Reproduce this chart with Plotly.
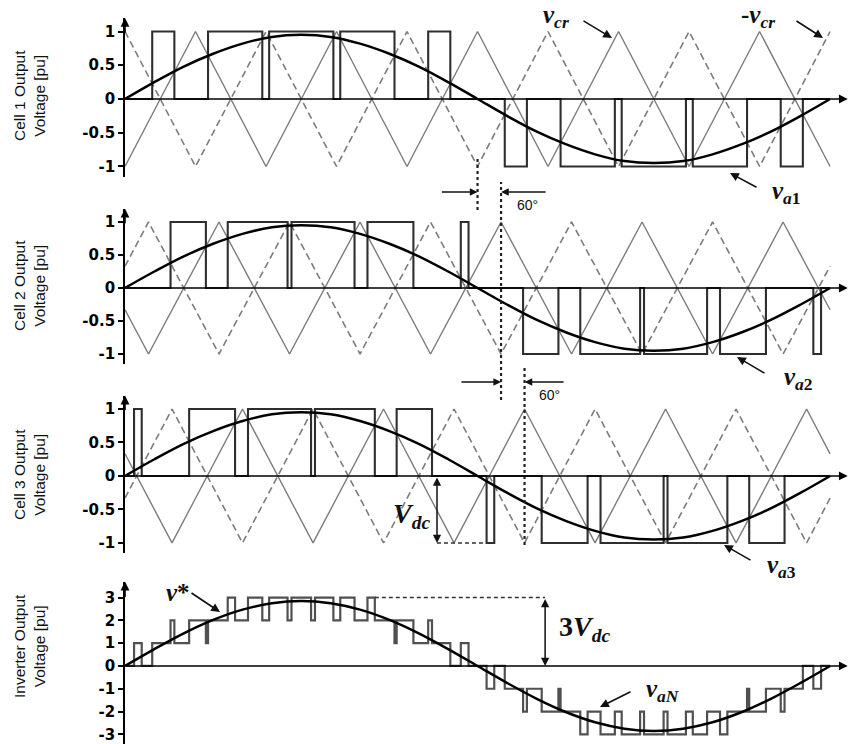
import plotly.graph_objects as go

W, H = 853, 744

# ---------------- data (angles in degrees) ----------------
ref_angle = [0, 15, 30, 45, 60, 75, 90, 105, 120, 135, 150, 165, 180,
             195, 210, 225, 240, 255, 270, 285, 300, 315, 330, 345, 360]
ref_cell = [0, 0.25, 0.48, 0.67, 0.82, 0.92, 0.95, 0.92, 0.82, 0.67, 0.48, 0.25, 0,
            -0.25, -0.48, -0.67, -0.82, -0.92, -0.95, -0.92, -0.82, -0.67, -0.48, -0.25, 0]
ref_inv = [0, 0.74, 1.43, 2.02, 2.47, 2.75, 2.85, 2.75, 2.47, 2.02, 1.43, 0.74, 0,
           -0.74, -1.43, -2.02, -2.47, -2.75, -2.85, -2.75, -2.47, -2.02, -1.43, -0.74, 0]

carrier1_t = [0, 36, 72, 108, 144, 180, 216, 252, 288, 324, 360]
carrier1_v = [-1, 1, -1, 1, -1, 1, -1, 1, -1, 1, -1]
carrier2_t = [0, 12, 48, 84, 120, 156, 192, 228, 264, 300, 336, 360]
carrier2_v = [-0.33, -1, 1, -1, 1, -1, 1, -1, 1, -1, 1, -0.33]
carrier3_t = [0, 24, 60, 96, 132, 168, 204, 240, 276, 312, 348, 360]
carrier3_v = [0.33, -1, 1, -1, 1, -1, 1, -1, 1, -1, 1, 0.33]

# switching instants (on, off, on, off, ...) of the +1 and -1 pulses
cell1_pos = [13.9, 25.2, 42.4, 70.1, 73.6, 106.4, 109.9, 137.6, 154.8, 166.1]
cell1_neg = [193.9, 205.2, 222.4, 250.1, 253.6, 286.4, 289.9, 317.6, 334.8, 346.1]
cell2_pos = [23.25, 41.3, 52.45, 83.0, 85.0, 117.2, 123.8, 147.25, 171.45, 175.4]
cell2_neg = [203.25, 221.3, 232.45, 263.0, 265.0, 297.2, 303.8, 327.25, 351.45, 355.4]
cell3_pos = [4.62, 8.53, 32.75, 56.2, 62.8, 95.0, 97.0, 127.55, 138.7, 156.75]
cell3_neg = [184.62, 188.53, 212.75, 236.2, 242.8, 275.0, 277.0, 307.55, 318.7, 336.75]

cell_ticks = [1, 0.5, 0, -0.5, -1]
cell_ticktext = ["1", "0.5", "0", "-0.5", "-1"]
inv_ticks = [3, 2, 1, 0, -1, -2, -3]
inv_ticktext = ["3", "2", "1", "0", "-1", "-2", "-3"]

cells = [
    ("Cell 1 Output", carrier1_t, carrier1_v, cell1_pos, cell1_neg),
    ("Cell 2 Output", carrier2_t, carrier2_v, cell2_pos, cell2_neg),
    ("Cell 3 Output", carrier3_t, carrier3_v, cell3_pos, cell3_neg),
]


def pulse_xy(pos, neg):
    xs, ys = [0], [0]
    for i, e in enumerate(pos):
        xs.append(e); ys.append(1 if i % 2 == 0 else 0)
    for i, e in enumerate(neg):
        xs.append(e); ys.append(-1 if i % 2 == 0 else 0)
    xs.append(360); ys.append(0)
    return xs, ys


def level(pos, neg, t):
    for a, b in zip(pos[0::2], pos[1::2]):
        if a <= t < b:
            return 1
    for a, b in zip(neg[0::2], neg[1::2]):
        if a <= t < b:
            return -1
    return 0


fig = go.Figure()
PULSE = "#2e2e2e"
CARR = "#7c7c7c"

for k, (name, ct, cv, pos, neg) in enumerate(cells, start=1):
    xa, ya = ("x", "y") if k == 1 else (f"x{k}", f"y{k}")
    fig.add_trace(go.Scatter(x=ct, y=[-v for v in cv], mode="lines", xaxis=xa, yaxis=ya,
                             line=dict(color=CARR, width=1.6, dash="7px,4px")))
    fig.add_trace(go.Scatter(x=ct, y=cv, mode="lines", xaxis=xa, yaxis=ya,
                             line=dict(color=CARR, width=1.4)))
    px_, py_ = pulse_xy(pos, neg)
    fig.add_trace(go.Scatter(x=px_, y=py_, mode="lines", xaxis=xa, yaxis=ya,
                             line=dict(color=PULSE, width=2.1, shape="hv")))
    fig.add_trace(go.Scatter(x=ref_angle, y=ref_cell, mode="lines", xaxis=xa, yaxis=ya,
                             line=dict(color="black", width=2.5, shape="spline", smoothing=1)))

# inverter output = sum of the three cells
edges = sorted(set([0, 360] + cell1_pos + cell1_neg + cell2_pos + cell2_neg + cell3_pos + cell3_neg))
inv_x, inv_y = [], []
for a, b in zip(edges[:-1], edges[1:]):
    m = 0.5 * (a + b)
    inv_x.append(a)
    inv_y.append(sum(level(c[3], c[4], m) for c in cells))
inv_x.append(360); inv_y.append(0)
fig.add_trace(go.Scatter(x=inv_x, y=inv_y, mode="lines", xaxis="x4", yaxis="y4",
                         line=dict(color="#505050", width=2.2, shape="hv")))
fig.add_trace(go.Scatter(x=ref_angle, y=ref_inv, mode="lines", xaxis="x4", yaxis="y4",
                         line=dict(color="black", width=2.5, shape="spline", smoothing=1)))

# ---------------- layout ----------------
XMAX = 371.7
xdom = [125 / W, 1.0]


def pdom(top_px, bot_px):
    return [1 - bot_px / H, 1 - top_px / H]


doms = [pdom(18, 176.6), pdom(208.8, 363.9), pdom(395.6, 553.0), pdom(581.6, 743.5)]
ranges = [[-1.15, 1.2], [-1.15, 1.2], [-1.15, 1.2], [-3.4, 3.7]]

tickfont = dict(family="DejaVu Sans", size=15, color="black", weight="bold")
lay = dict(width=W, height=H, margin=dict(l=0, r=0, t=0, b=0),
           paper_bgcolor="white", plot_bgcolor="white", showlegend=False)
for k in range(1, 5):
    sx = "" if k == 1 else str(k)
    lay[f"xaxis{sx}"] = dict(domain=xdom, range=[0, XMAX], visible=False,
                             anchor=f"y{sx}", **({} if k == 1 else {"matches": "x"}))
    lay[f"yaxis{sx}"] = dict(domain=doms[k - 1], range=ranges[k - 1], anchor=f"x{sx}",
                             showline=True, linecolor="black", linewidth=1.8,
                             ticks="outside", ticklen=5, tickwidth=1.6, tickcolor="black",
                             tickvals=cell_ticks if k < 4 else inv_ticks,
                             ticktext=cell_ticktext if k < 4 else inv_ticktext,
                             tickfont=tickfont, showgrid=False, zeroline=False)
fig.update_layout(**lay)

ann = []
shapes = []
# axis arrows
for k in range(1, 5):
    sx = "" if k == 1 else str(k)
    top = ranges[k - 1][1]
    ann.append(dict(x=369, y=0, xref=f"x{sx}", yref=f"y{sx}", ax=0, ay=0,
                    axref=f"x{sx}", ayref=f"y{sx}", text="", showarrow=True,
                    arrowhead=2, arrowsize=1.1, arrowwidth=1.6, arrowcolor="black"))
    ann.append(dict(x=0, y=top, xref=f"x{sx}", yref=f"y{sx}", ax=0, ay=top * 0.8,
                    axref=f"x{sx}", ayref=f"y{sx}", text="", showarrow=True,
                    arrowhead=2, arrowsize=1.1, arrowwidth=1.6, arrowcolor="black"))

# y titles
titles = [("Cell 1 Output<br>Voltage [pu]", 96), ("Cell 2 Output<br>Voltage [pu]", 286),
          ("Cell 3 Output<br>Voltage [pu]", 475), ("Inverter Output<br>Voltage [pu]", 646)]
for t, ypx in titles:
    ann.append(dict(x=29 / W, y=1 - ypx / H, xref="paper", yref="paper", text=t,
                    xanchor="center", yanchor="middle",
                    showarrow=False, textangle=-90,
                    font=dict(family="Liberation Sans", size=15.5, color="#111")))

MATH = dict(family="Liberation Serif", size=25, color="#111", weight="bold")


def text_at(px, py, txt, font=MATH):
    ann.append(dict(x=px / W, y=1 - py / H, xref="paper", yref="paper", text=txt,
                    xanchor="center", yanchor="middle", showarrow=False, font=font))


def arrow_at(hx, hy, ax, ay):
    ann.append(dict(x=hx / W, y=1 - hy / H, xref="paper", yref="paper", text="",
                    showarrow=True, ax=ax, ay=ay, arrowhead=2, arrowsize=1.1,
                    arrowwidth=1.6, arrowcolor="#111"))


text_at(556, 17, "<i>v</i><sub><i>cr</i></sub>")
arrow_at(612, 38, -30, -18)
text_at(758, 17, "-<i>v</i><sub><i>cr</i></sub>")
arrow_at(823, 38, -28, -18)
text_at(786, 192, "<i>v</i><sub><i>a</i>1</sub>")
arrow_at(730, 173, 28, 15)
text_at(798, 378, "<i>v</i><sub><i>a</i>2</sub>")
arrow_at(737, 357, 29, 17)
text_at(781, 566, "<i>v</i><sub><i>a</i>3</sub>")
arrow_at(724, 545, 28, 16)
text_at(178, 592, "<i>v</i>*")
arrow_at(220, 612, -30, -20)
text_at(663, 690, "<i>v</i><sub><i>aN</i></sub>")
arrow_at(600, 707, 32, -16)
BIG = dict(family="Liberation Serif", size=28, color="#111", weight="bold")
text_at(411, 515, "<i>V</i><sub><i>dc</i></sub>", BIG)
text_at(584, 628, "3<i>V</i><sub><i>dc</i></sub>", BIG)
SMALL = dict(family="Liberation Sans", size=14, color="#111")
text_at(527, 205, "60°", SMALL)
text_at(549, 395, "60°", SMALL)

# 60 degree markers (dotted lines at carrier peaks and arrows)
for xv, xr, y0px, y1px in [(180, "x", 157, 210), (192, "x2", 182, 400), (204, "x3", 365, 545)]:
    shapes.append(dict(type="line", xref=xr, yref="paper", x0=xv, x1=xv,
                       y0=1 - y1px / H, y1=1 - y0px / H,
                       line=dict(color="#222", width=2.2, dash="dot")))
for tip, tail, xr, ypx in [(180, 161, "x", 192), (192, 215.5, "x", 192),
                           (192, 171, "x", 382), (204, 224.7, "x", 382)]:
    ann.append(dict(x=tip, y=1 - ypx / H, xref=xr, yref="paper", ax=tail, ay=0,
                    axref=xr, ayref="pixel", text="", showarrow=True, arrowhead=2,
                    arrowsize=1.1, arrowwidth=1.4, arrowcolor="#111"))

# V_dc marker in panel 3
ann.append(dict(x=159.3, y=-1, xref="x3", yref="y3", ax=159.3, ay=0, axref="x3", ayref="y3",
                text="", showarrow=True, arrowhead=2, arrowside="end+start", arrowsize=1.1,
                arrowwidth=1.5, arrowcolor="#111"))
shapes.append(dict(type="line", xref="x3", yref="y3", x0=159.3, x1=184.6, y0=-1, y1=-1,
                   line=dict(color="#333", width=1.5, dash="4px,3px")))
# 3V_dc marker in panel 4
ann.append(dict(x=214.5, y=0, xref="x4", yref="y4", ax=214.5, ay=3, axref="x4", ayref="y4",
                text="", showarrow=True, arrowhead=2, arrowside="end+start", arrowsize=1.1,
                arrowwidth=1.5, arrowcolor="#111"))
shapes.append(dict(type="line", xref="x4", yref="y4", x0=127.55, x1=214.5, y0=3, y1=3,
                   line=dict(color="#333", width=1.5, dash="4px,3px")))

fig.update_layout(annotations=ann, shapes=shapes)
fig.write_html("out.html")
